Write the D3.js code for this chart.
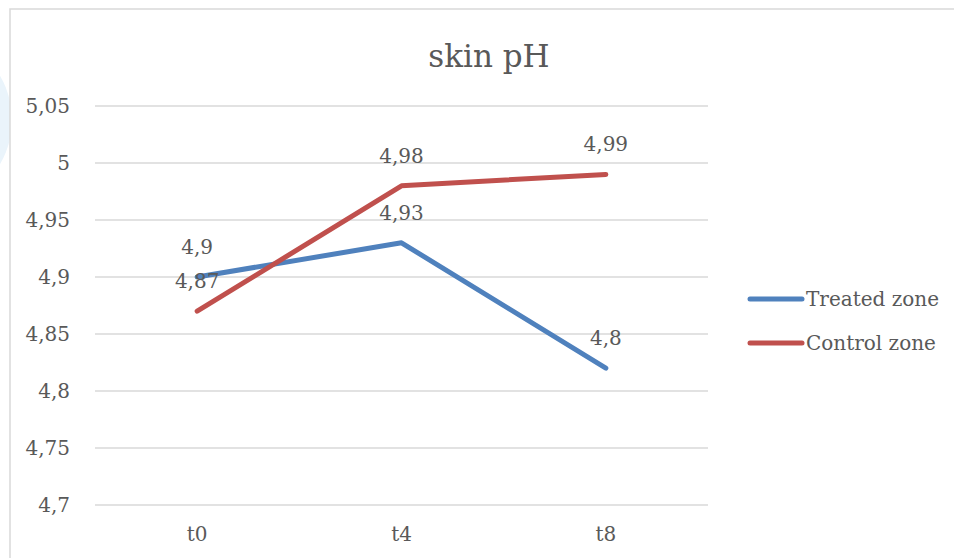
<!DOCTYPE html>
<html>
<head>
<meta charset="utf-8">
<script src="https://cdn.jsdelivr.net/npm/d3@7"></script>
<style>
  body { margin: 0; background: #fff; }
  svg text { font-family: "DejaVu Serif", "Liberation Serif", serif; fill: #595959; }
</style>
</head>
<body>
<script>
// chart data
var categories = ["t0", "t4", "t8"];
var treatedValues = [4.9, 4.93, 4.82];
var treatedLabels = ["4,9", "4,93", "4,8"];
var controlValues = [4.87, 4.98, 4.99];
var controlLabels = ["4,87", "4,98", "4,99"];
var yTicks = [4.7, 4.75, 4.8, 4.85, 4.9, 4.95, 5, 5.05];
var seriesNames = ["Treated zone", "Control zone"];
var seriesColors = ["#4f81bd", "#c0504d"];

var svgWidth = 954;
var svgHeight = 558;

var chartMargin = { top: 106, right: 246, bottom: 53, left: 95 };
var chartWidth = svgWidth - chartMargin.left - chartMargin.right;
var chartHeight = svgHeight - chartMargin.top - chartMargin.bottom;

var svg = d3.select("body")
  .append("svg")
  .attr("width", svgWidth)
  .attr("height", svgHeight);

// faint background blob on the left
svg.append("ellipse")
  .attr("cx", -70).attr("cy", 120)
  .attr("rx", 82).attr("ry", 85)
  .attr("fill", "#eaf4fb");

// chart frame
svg.append("rect")
  .attr("x", 10).attr("y", 9)
  .attr("width", 960).attr("height", 560)
  .attr("fill", "#fff")
  .attr("stroke", "#d9d9d9")
  .attr("stroke-width", 1.5);

var chartGroup = svg.append("g")
  .attr("transform", `translate(${chartMargin.left}, ${chartMargin.top})`);

var xBandScale = d3.scaleBand()
  .domain(categories)
  .range([0, chartWidth]);

var yLinearScale = d3.scaleLinear()
  .domain([4.7, 5.05])
  .range([chartHeight, 0]);

var fmt = function(d) { return d3.format("~g")(d).replace(".", ","); };

// gridlines
chartGroup.selectAll(".grid")
  .data(yTicks)
  .enter()
  .append("line")
  .attr("x1", 0)
  .attr("x2", chartWidth)
  .attr("y1", d => yLinearScale(d))
  .attr("y2", d => yLinearScale(d))
  .attr("stroke", "#d9d9d9")
  .attr("stroke-width", 1.5);

// y axis labels
var leftAxis = d3.axisLeft(yLinearScale).tickValues(yTicks).tickFormat(fmt).tickSize(0).tickPadding(25);
var yAxisG = chartGroup.append("g").call(leftAxis);
yAxisG.select(".domain").remove();
yAxisG.selectAll("text")
  .style("font-family", "DejaVu Serif, serif")
  .style("font-size", "20px")
  .attr("fill", "#595959");

// x axis labels
var bottomAxis = d3.axisBottom(xBandScale).tickSize(0).tickPadding(22);
var xAxisG = chartGroup.append("g")
  .attr("transform", `translate(0, ${chartHeight})`)
  .call(bottomAxis);
xAxisG.select(".domain").remove();
xAxisG.selectAll("text")
  .style("font-family", "DejaVu Serif, serif")
  .style("font-size", "20px")
  .attr("fill", "#595959");

// title
svg.append("text")
  .attr("x", 489)
  .attr("y", 67)
  .attr("text-anchor", "middle")
  .style("font-size", "31px")
  .text("skin pH");

var allSeries = [
  { values: treatedValues, labels: treatedLabels },
  { values: controlValues, labels: controlLabels }
];

var line = d3.line()
  .x((d, i) => xBandScale(categories[i]) + xBandScale.bandwidth() / 2)
  .y(d => yLinearScale(d));

allSeries.forEach(function(s, k) {
  chartGroup.append("path")
    .datum(s.values)
    .attr("d", line)
    .attr("fill", "none")
    .attr("stroke", seriesColors[k])
    .attr("stroke-width", 5)
    .attr("stroke-linecap", "round")
    .attr("stroke-linejoin", "round");
});

// data labels drawn after lines
allSeries.forEach(function(s, k) {
  chartGroup.selectAll(".lbl" + k)
    .data(s.values)
    .enter()
    .append("text")
    .attr("x", (d, i) => xBandScale(categories[i]) + xBandScale.bandwidth() / 2)
    .attr("y", d => yLinearScale(d) - 23)
    .attr("text-anchor", "middle")
    .style("font-size", "20px")
    .attr("fill", "#404040")
    .text((d, i) => s.labels[i]);
});

// legend
var legend = svg.append("g");
seriesNames.forEach(function(name, k) {
  var y = 299 + k * 44;
  legend.append("line")
    .attr("x1", 750).attr("x2", 802)
    .attr("y1", y).attr("y2", y)
    .attr("stroke", seriesColors[k])
    .attr("stroke-width", 5)
    .attr("stroke-linecap", "round");
  legend.append("text")
    .attr("x", 806)
    .attr("y", y + 7)
    .style("font-size", "20px")
    .text(name);
});
</script>
</body>
</html>
